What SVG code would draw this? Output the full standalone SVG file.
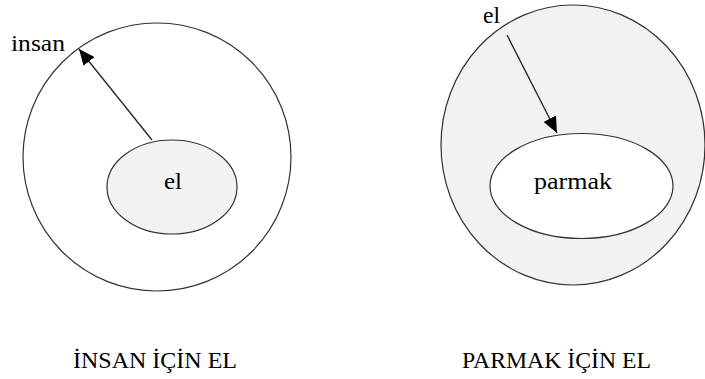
<svg xmlns="http://www.w3.org/2000/svg" width="705" height="379" viewBox="0 0 705 379">
<defs>
<style>
.shape{stroke:#333;stroke-width:1.2}
.white{fill:#fff}
.gray{fill:#f2f2f2}
.lbl{font-family:'Liberation Serif','Times New Roman',Times,serif;font-size:24px;fill:#000}
.conn{stroke:#222;stroke-width:1.3;fill:none}
</style>
<marker id="ah" markerUnits="userSpaceOnUse" markerWidth="16" markerHeight="14" viewBox="0 0 16 14" refX="16" refY="7" orient="auto">
<path d="M0,0 L16,7 L0,14 Z" fill="#000"/>
</marker>
</defs>
<rect width="705" height="379" fill="#fff"/>
<g id="insan">
<circle class="shape white" cx="157" cy="157" r="134"/>
<text class="lbl" x="11" y="51" textLength="54" lengthAdjust="spacingAndGlyphs">insan</text>
</g>
<g id="el-left">
<ellipse class="shape gray" cx="172" cy="187" rx="65" ry="47"/>
<text class="lbl" x="164" y="189" textLength="18" lengthAdjust="spacingAndGlyphs">el</text>
</g>
<g id="el-right">
<ellipse class="shape gray" cx="573" cy="145" rx="132" ry="140"/>
<text class="lbl" x="483" y="23" textLength="17" lengthAdjust="spacingAndGlyphs">el</text>
</g>
<g id="parmak">
<ellipse class="shape white" cx="581.5" cy="186" rx="91.5" ry="52.5"/>
<text class="lbl" x="534" y="189" textLength="78" lengthAdjust="spacingAndGlyphs">parmak</text>
</g>
<g id="connectors">
<line class="conn" x1="152" y1="140" x2="79" y2="49" marker-end="url(#ah)"/>
<line class="conn" x1="507" y1="35" x2="557" y2="133" marker-end="url(#ah)"/>
</g>
<g id="captions">
<text class="lbl" x="73" y="368" textLength="164" lengthAdjust="spacingAndGlyphs">İNSAN İÇİN EL</text>
<text class="lbl" x="462" y="368" textLength="189" lengthAdjust="spacingAndGlyphs">PARMAK İÇİN EL</text>
</g>
</svg>
